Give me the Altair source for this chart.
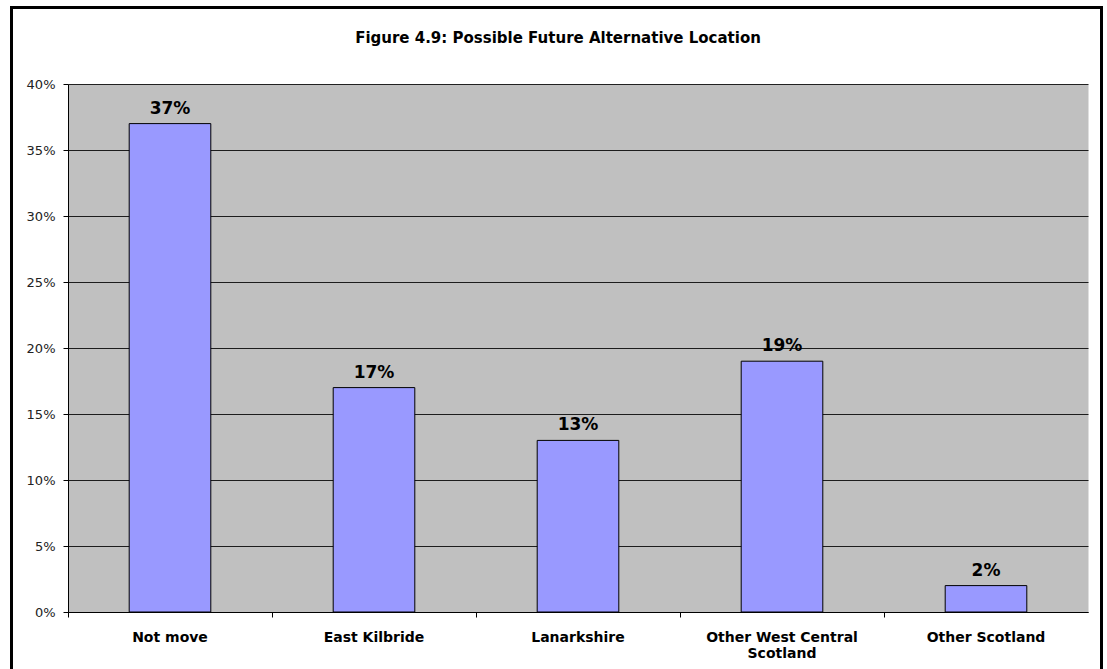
import altair as alt
import pandas as pd

locations = ["Not move", "East Kilbride", "Lanarkshire", "Other West Central Scotland", "Other Scotland"]
shares = [0.37, 0.17, 0.13, 0.19, 0.02]
chart_title = "Figure 4.9: Possible Future Alternative Location"

df = pd.DataFrame({"location": locations, "share": shares})
title_df = pd.DataFrame({"text": [chart_title]})

FONT = "DejaVu Sans"
band = alt.Scale(paddingInner=0, paddingOuter=0)

x_enc = alt.X(
    "location:N",
    sort=locations,
    title=None,
    scale=band,
    axis=alt.Axis(
        labelAngle=0,
        labelFont=FONT,
        labelFontWeight="bold",
        labelFontSize=14,
        labelColor="black",
        labelPadding=13,
        labelLineHeight=16,
        labelLimit=300,
        labelExpr="datum.label == 'Other West Central Scotland' ? ['Other West Central', 'Scotland'] : datum.label",
        bandPosition=0,
        tickSize=5,
        tickColor="black",
        domainColor="black",
        grid=False,
    ),
)

y_enc = alt.Y(
    "share:Q",
    title=None,
    scale=alt.Scale(domain=[0, 0.4], nice=False),
    axis=alt.Axis(
        format="%",
        values=[0, 0.05, 0.1, 0.15, 0.2, 0.25, 0.3, 0.35, 0.4],
        labelFont=FONT,
        labelFontSize=13,
        labelColor="#222222",
        labelPadding=8,
        tickSize=5,
        tickColor="black",
        domainColor="black",
        gridColor="black",
        gridOpacity=0.85,
        grid=True,
    ),
)

bars = alt.Chart(df).mark_bar(
    color="#9999FF", stroke="black", strokeWidth=1, width=alt.RelativeBandSize(0.4)
).encode(x=x_enc, y=y_enc)

labels = alt.Chart(df).mark_text(
    font=FONT, fontWeight="bold", fontSize=17, baseline="alphabetic", dy=-10, color="black"
).encode(
    x=alt.X("location:N", sort=locations, scale=band),
    y="share:Q",
    text=alt.Text("share:Q", format=".0%"),
)

# Chart heading, centred over the whole framed figure
heading = alt.Chart(title_df).mark_text(
    font=FONT, fontWeight="bold", fontSize=15, baseline="alphabetic", align="center", color="black"
).encode(x=alt.value(490), y=alt.value(-41), text="text:N")

# Black frame around the whole figure
frame = alt.Chart(title_df).mark_rect(
    fill="transparent", stroke="black", strokeWidth=3, clip=False
).encode(
    x=alt.value(-56.5), x2=alt.value(1033.5), y=alt.value(-76.5), y2=alt.value(590)
)

chart = (
    alt.layer(bars, labels, heading, frame)
    .properties(
        width=1020,
        height=528,
        autosize=alt.AutoSizeParams(type="none"),
        padding={"left": 68, "top": 84, "right": 19, "bottom": 57},
        background="white",
    )
    .configure_view(fill="#C0C0C0", stroke="transparent")
)

chart.save("out.html", embed_options={"renderer": "svg", "actions": False})
